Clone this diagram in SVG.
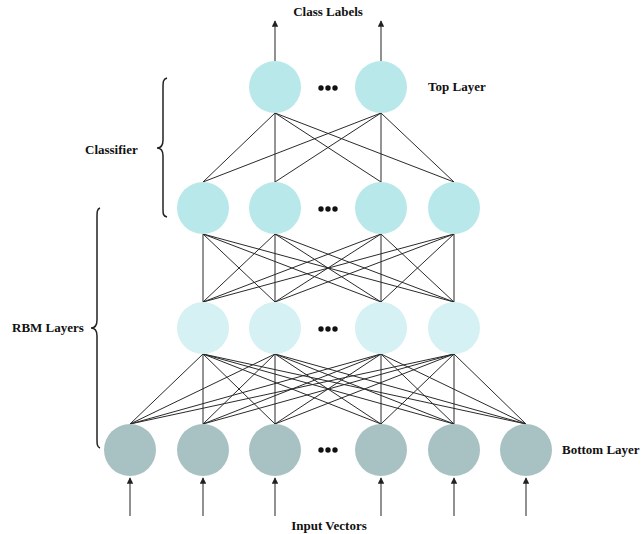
<svg xmlns="http://www.w3.org/2000/svg" width="642" height="534" viewBox="0 0 642 534">
<style>
.lbl{font-family:"Liberation Serif","Times New Roman",serif;font-weight:bold;font-size:13px;fill:#111}
.top{fill:#b9e8eb}
.mid{fill:#d5f1f4}
.bot{fill:#a8c2c3}
.edge{stroke:#2a2a2a;stroke-width:1;fill:none}
.arr{stroke:#555;stroke-width:1.3;fill:none;marker-end:url(#ah)}
.brace{stroke:#222;stroke-width:1.5;fill:none}
.dot{fill:#111}
</style>
<defs>
<marker id="ah" viewBox="0 0 10 10" refX="9" refY="5" markerWidth="5" markerHeight="5" orient="auto" markerUnits="strokeWidth">
<path d="M0,0 L10,5 L0,10 z" fill="#222"/>
</marker>
</defs>
<rect width="642" height="534" fill="#ffffff"/>
<g id="connectors">
<g id="top-to-second">
<line class="edge" x1="275" y1="113" x2="203" y2="182"/>
<line class="edge" x1="275" y1="113" x2="275" y2="182"/>
<line class="edge" x1="275" y1="113" x2="381" y2="182"/>
<line class="edge" x1="275" y1="113" x2="454" y2="182"/>
<line class="edge" x1="381" y1="113" x2="203" y2="182"/>
<line class="edge" x1="381" y1="113" x2="275" y2="182"/>
<line class="edge" x1="381" y1="113" x2="381" y2="182"/>
<line class="edge" x1="381" y1="113" x2="454" y2="182"/>
</g>
<g id="second-to-third">
<line class="edge" x1="203" y1="234" x2="203" y2="302"/>
<line class="edge" x1="203" y1="234" x2="275" y2="302"/>
<line class="edge" x1="203" y1="234" x2="381" y2="302"/>
<line class="edge" x1="203" y1="234" x2="454" y2="302"/>
<line class="edge" x1="275" y1="234" x2="203" y2="302"/>
<line class="edge" x1="275" y1="234" x2="275" y2="302"/>
<line class="edge" x1="275" y1="234" x2="381" y2="302"/>
<line class="edge" x1="275" y1="234" x2="454" y2="302"/>
<line class="edge" x1="381" y1="234" x2="203" y2="302"/>
<line class="edge" x1="381" y1="234" x2="275" y2="302"/>
<line class="edge" x1="381" y1="234" x2="381" y2="302"/>
<line class="edge" x1="381" y1="234" x2="454" y2="302"/>
<line class="edge" x1="454" y1="234" x2="203" y2="302"/>
<line class="edge" x1="454" y1="234" x2="275" y2="302"/>
<line class="edge" x1="454" y1="234" x2="381" y2="302"/>
<line class="edge" x1="454" y1="234" x2="454" y2="302"/>
</g>
<g id="third-to-bottom">
<line class="edge" x1="203" y1="354" x2="130" y2="424"/>
<line class="edge" x1="203" y1="354" x2="203" y2="424"/>
<line class="edge" x1="203" y1="354" x2="275" y2="424"/>
<line class="edge" x1="203" y1="354" x2="381" y2="424"/>
<line class="edge" x1="203" y1="354" x2="454" y2="424"/>
<line class="edge" x1="203" y1="354" x2="526" y2="424"/>
<line class="edge" x1="275" y1="354" x2="130" y2="424"/>
<line class="edge" x1="275" y1="354" x2="203" y2="424"/>
<line class="edge" x1="275" y1="354" x2="275" y2="424"/>
<line class="edge" x1="275" y1="354" x2="381" y2="424"/>
<line class="edge" x1="275" y1="354" x2="454" y2="424"/>
<line class="edge" x1="275" y1="354" x2="526" y2="424"/>
<line class="edge" x1="381" y1="354" x2="130" y2="424"/>
<line class="edge" x1="381" y1="354" x2="203" y2="424"/>
<line class="edge" x1="381" y1="354" x2="275" y2="424"/>
<line class="edge" x1="381" y1="354" x2="381" y2="424"/>
<line class="edge" x1="381" y1="354" x2="454" y2="424"/>
<line class="edge" x1="381" y1="354" x2="526" y2="424"/>
<line class="edge" x1="454" y1="354" x2="130" y2="424"/>
<line class="edge" x1="454" y1="354" x2="203" y2="424"/>
<line class="edge" x1="454" y1="354" x2="275" y2="424"/>
<line class="edge" x1="454" y1="354" x2="381" y2="424"/>
<line class="edge" x1="454" y1="354" x2="454" y2="424"/>
<line class="edge" x1="454" y1="354" x2="526" y2="424"/>
</g>
<g id="output-arrows">
<line class="arr" x1="275" y1="61" x2="275" y2="21"/>
<line class="arr" x1="381" y1="61" x2="381" y2="21"/>
</g>
<g id="input-arrows">
<line class="arr" x1="130" y1="516" x2="130" y2="478"/>
<line class="arr" x1="203" y1="516" x2="203" y2="478"/>
<line class="arr" x1="275" y1="516" x2="275" y2="478"/>
<line class="arr" x1="381" y1="516" x2="381" y2="478"/>
<line class="arr" x1="454" y1="516" x2="454" y2="478"/>
<line class="arr" x1="526" y1="516" x2="526" y2="478"/>
</g>
</g>
<g id="top-layer">
<circle id="t1" class="top" cx="275" cy="87" r="26"/>
<circle id="t2" class="top" cx="381" cy="87" r="26"/>
<circle class="dot" cx="321" cy="88" r="2.7"/><circle class="dot" cx="328" cy="88" r="2.7"/><circle class="dot" cx="335" cy="88" r="2.7"/>
</g>
<g id="second-layer">
<circle id="s1" class="top" cx="203" cy="208" r="26"/>
<circle id="s2" class="top" cx="275" cy="208" r="26"/>
<circle id="s3" class="top" cx="381" cy="208" r="26"/>
<circle id="s4" class="top" cx="454" cy="208" r="26"/>
<circle class="dot" cx="321" cy="209" r="2.7"/><circle class="dot" cx="328" cy="209" r="2.7"/><circle class="dot" cx="335" cy="209" r="2.7"/>
</g>
<g id="third-layer">
<circle id="r1" class="mid" cx="203" cy="328" r="26"/>
<circle id="r2" class="mid" cx="275" cy="328" r="26"/>
<circle id="r3" class="mid" cx="381" cy="328" r="26"/>
<circle id="r4" class="mid" cx="454" cy="328" r="26"/>
<circle class="dot" cx="321" cy="329" r="2.7"/><circle class="dot" cx="328" cy="329" r="2.7"/><circle class="dot" cx="335" cy="329" r="2.7"/>
</g>
<g id="bottom-layer">
<circle id="b1" class="bot" cx="130" cy="450" r="26"/>
<circle id="b2" class="bot" cx="203" cy="450" r="26"/>
<circle id="b3" class="bot" cx="275" cy="450" r="26"/>
<circle id="b4" class="bot" cx="381" cy="450" r="26"/>
<circle id="b5" class="bot" cx="454" cy="450" r="26"/>
<circle id="b6" class="bot" cx="526" cy="450" r="26"/>
<circle class="dot" cx="321" cy="450" r="2.7"/><circle class="dot" cx="328" cy="450" r="2.7"/><circle class="dot" cx="335" cy="450" r="2.7"/>
</g>
<g id="braces">
<path class="brace" d="M167,78 C163,79 163,82 163,88 L163,140 C163,145 161,148 157,148 C161,148 163,151 163,156 L163,208 C163,214 163,216 167,217"/>
<path class="brace" d="M100,208 C97,209 97,212 97,218 L97,320 C97,325 95,328 91,328 C95,328 97,331 97,336 L97,438 C97,444 97,447 100,448"/>
</g>
<g id="labels">
<text class="lbl" x="328" y="16" text-anchor="middle">Class Labels</text>
<text class="lbl" x="428" y="91">Top Layer</text>
<text class="lbl" x="85" y="154">Classifier</text>
<text class="lbl" x="12" y="332">RBM Layers</text>
<text class="lbl" x="562" y="454">Bottom Layer</text>
<text class="lbl" x="329" y="530" text-anchor="middle">Input Vectors</text>
</g>
</svg>
